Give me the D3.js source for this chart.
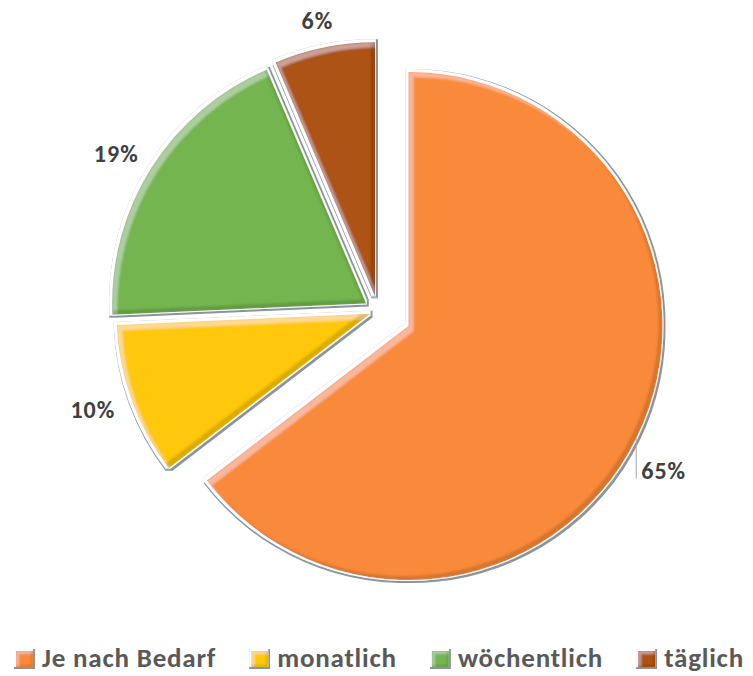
<!DOCTYPE html>
<html lang="de">
<head>
<meta charset="UTF-8">
<title>Häufigkeit</title>
<script src="https://cdnjs.cloudflare.com/ajax/libs/d3/7.8.5/d3.min.js"></script>
<style>
  body { margin: 0; background: #fff; }
  #chart { width: 753px; height: 676px; }
  text { font-family: Carlito, Calibri, Lato, sans-serif; font-weight: 700; }
</style>
</head>
<body>
<div id="chart"></div>
<script>
// data (shares, labels show them rounded)
const categories = ["Je nach Bedarf", "monatlich", "wöchentlich", "täglich"];
const shares = [64.6, 9.7, 19.3, 6.4];

// styling
const colors = ["#f98a3a", "#ffc808", "#75b54f", "#ad5312"];
const explode = [34, 8, 14, 15];   // px pulled out along each slice's mid angle
const width = 753, height = 676;
const cx = 378, cy = 311, radius = 254;

const svg = d3.select("#chart").append("svg")
  .attr("width", width).attr("height", height);

const defs = svg.append("defs");

// bevel look: gray rim, white rim, light top-left band, dark bottom-right band
function makeBevel(id, band, rim) {
  const f = defs.append("filter").attr("id", id)
    .attr("x", "-10%").attr("y", "-10%").attr("width", "120%").attr("height", "120%");
  f.append("feMorphology").attr("in", "SourceAlpha").attr("operator", "dilate").attr("radius", rim + 1).attr("result", "d1");
  f.append("feOffset").attr("in", "d1").attr("dx", -0.5).attr("dy", -0.5).attr("result", "d1o");
  f.append("feFlood").attr("flood-color", "#8a949e").attr("result", "c1");
  f.append("feComposite").attr("in", "c1").attr("in2", "d1o").attr("operator", "in").attr("result", "grayRim");
  f.append("feMorphology").attr("in", "SourceAlpha").attr("operator", "dilate").attr("radius", rim).attr("result", "d2");
  f.append("feOffset").attr("in", "d2").attr("dx", -1).attr("dy", -1).attr("result", "d2o");
  f.append("feFlood").attr("flood-color", "#ffffff").attr("result", "c2");
  f.append("feComposite").attr("in", "c2").attr("in2", "d2o").attr("operator", "in").attr("result", "whiteRim");

  f.append("feOffset").attr("in", "SourceAlpha").attr("dx", band).attr("dy", band).attr("result", "sDR");
  f.append("feComposite").attr("in", "SourceAlpha").attr("in2", "sDR").attr("operator", "out").attr("result", "hiM");
  f.append("feGaussianBlur").attr("in", "hiM").attr("stdDeviation", 1).attr("result", "hiMB");
  f.append("feFlood").attr("flood-color", "#ffffff").attr("flood-opacity", 0.3).attr("result", "hiC");
  f.append("feComposite").attr("in", "hiC").attr("in2", "hiMB").attr("operator", "in").attr("result", "hi0");
  f.append("feComposite").attr("in", "hi0").attr("in2", "SourceAlpha").attr("operator", "in").attr("result", "hi");

  f.append("feOffset").attr("in", "SourceAlpha").attr("dx", -band * 0.8).attr("dy", -band * 0.8).attr("result", "sUL");
  f.append("feComposite").attr("in", "SourceAlpha").attr("in2", "sUL").attr("operator", "out").attr("result", "shM");
  f.append("feGaussianBlur").attr("in", "shM").attr("stdDeviation", 1).attr("result", "shMB");
  f.append("feFlood").attr("flood-color", "#000000").attr("flood-opacity", 0.3).attr("result", "shC");
  f.append("feComposite").attr("in", "shC").attr("in2", "shMB").attr("operator", "in").attr("result", "sh0");
  f.append("feComposite").attr("in", "sh0").attr("in2", "SourceAlpha").attr("operator", "in").attr("result", "sh");

  const m = f.append("feMerge");
  ["grayRim", "whiteRim", "SourceGraphic", "hi", "sh"].forEach(k => m.append("feMergeNode").attr("in", k));
}
makeBevel("bevel", 5, 1.5);
makeBevel("bevelSmall", 3, 0.6);

const pie = d3.pie().value(d => d).sort(null);
const arcs = pie(shares);
const arc = d3.arc().innerRadius(0).outerRadius(radius);

// unit vector for an angle measured clockwise from 12 o'clock
const dir = a => [Math.sin(a), -Math.cos(a)];
const mid = d => (d.startAngle + d.endAngle) / 2;
const origin = (d, i) => {
  const [ux, uy] = dir(mid(d));
  return [cx + ux * explode[i], cy + uy * explode[i]];
};

const g = svg.append("g");
g.selectAll("path.slice")
  .data(arcs)
  .join("path")
  .attr("class", "slice")
  .attr("transform", (d, i) => `translate(${origin(d, i)})`)
  .attr("d", arc)
  .attr("fill", (d, i) => colors[i])
  .attr("filter", "url(#bevel)");

// data labels, outside end: the label box sits just beyond the arc
const labelGap = 19, capH = 17;
const pct = v => Math.round(v) + "%";
const leader = [true, false, false, false];
arcs.forEach((d, i) => {
  const [ox, oy] = origin(d, i);
  const [ux, uy] = dir(mid(d));
  const t = svg.append("text")
    .attr("font-size", 24).attr("letter-spacing", 1).attr("fill", "#404040")
    .text(pct(d.data));
  if (leader[i]) {
    const ax = ox + ux * radius, ay = oy + uy * radius;
    const by = ay + 40;
    svg.append("line")
      .attr("x1", ax).attr("y1", ay).attr("x2", ax).attr("y2", by)
      .attr("stroke", "#a6a6a6").attr("stroke-width", 1);
    t.attr("x", ax + 5).attr("y", by);
  } else {
    const w = t.node().getComputedTextLength();
    const mx = ox + ux * (radius + labelGap) + ux * w / 2;
    const my = oy + uy * (radius + labelGap) + uy * capH / 2;
    t.attr("x", mx).attr("y", my + capH / 2).attr("text-anchor", "middle");
  }
});

// legend
const legend = svg.append("g");
const boxW = 17, boxH = 16, gapIn = 9, gapOut = 35, legY = 659;
const items = legend.selectAll("g.item")
  .data(categories)
  .join("g")
  .attr("class", "item");
items.append("rect")
  .attr("width", boxW).attr("height", boxH)
  .attr("y", legY - boxH / 2)
  .attr("fill", (d, i) => colors[i])
  .attr("filter", "url(#bevelSmall)");
items.append("text")
  .attr("x", boxW + gapIn)
  .attr("y", legY + 8)
  .attr("font-size", 27).attr("letter-spacing", 0.8).attr("fill", "#595959")
  .text(d => d);

let x = 0;
const offs = [];
items.each(function () {
  offs.push(x);
  x += boxW + gapIn + d3.select(this).select("text").node().getComputedTextLength() + gapOut;
});
const total = x - gapOut;
const startX = 380 - total / 2;
items.attr("transform", (d, i) => `translate(${startX + offs[i]},0)`);
</script>
</body>
</html>
